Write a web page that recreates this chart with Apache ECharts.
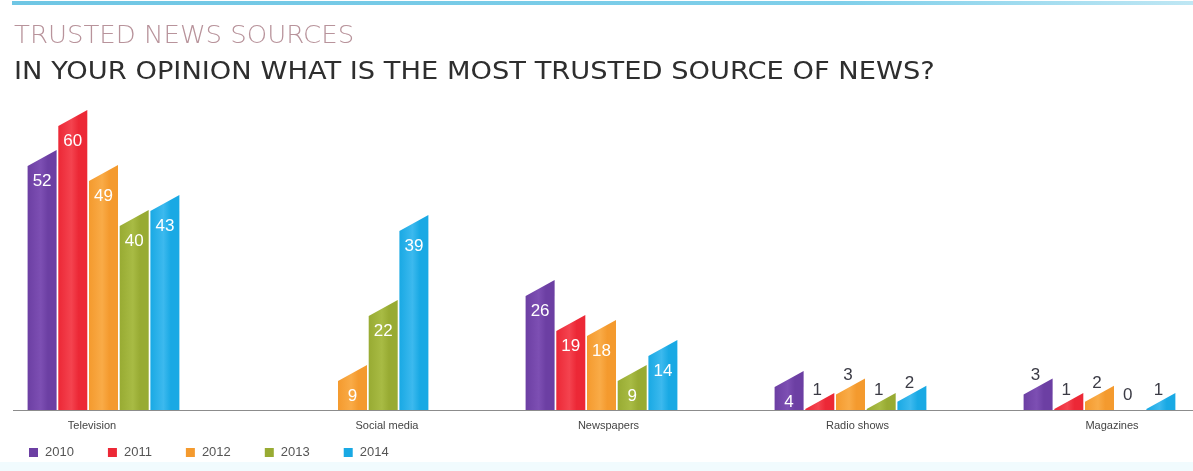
<!DOCTYPE html>
<html>
<head>
<meta charset="utf-8">
<script src="https://cdn.jsdelivr.net/npm/echarts@6/dist/echarts.min.js"></script>
<style>
  html, body { margin: 0; padding: 0; background: #ffffff; }
  #chart { width: 1193px; height: 471px; }
</style>
</head>
<body>
<div id="chart"></div>
<script>
// Survey: most trusted source of news, by year
const categories = ['Television', 'Social media', 'Newspapers', 'Radio shows', 'Magazines'];
const years = ['2010', '2011', '2012', '2013', '2014'];
const values2010 = [52, null, 26, 4, 3];
const values2011 = [60, null, 19, 1, 1];
const values2012 = [49, 9, 18, 3, 2];
const values2013 = [40, 22, 9, 1, 0];
const values2014 = [43, 39, 14, 2, 1];
const seriesValues = [values2010, values2011, values2012, values2013, values2014];
const colors = ['#6c3fa3', '#ec2836', '#f49a2e', '#98ab33', '#19a9e4'];
const stripes = ['#7d4fb3', '#f4434f', '#f9ab47', '#a8bb44', '#3cb9ee'];

const chart = echarts.init(document.getElementById('chart'), null, { renderer: 'canvas' });

const SLANT = 16;      // rise of the sloped top, px
const PITCH = 30.7;    // distance between neighbouring bars in a group
const BAR_W = 29;
const GROUP_W = 5 * PITCH - (PITCH - BAR_W);
const LABEL_FONT = '"Liberation Sans", Arial, sans-serif';

function makeRender(si) {
  return function (params, api) {
    const cat = api.value(0);
    const v = api.value(1);
    if (v == null || isNaN(v) || v <= 0) {
      if (v === 0) {
        const base0 = api.coord([cat, 0]);
        const x0 = base0[0] - GROUP_W / 2 + si * PITCH;
        return {
          type: 'text',
          style: {
            text: '0', x: x0 + 12, y: base0[1] - 15,
            fill: '#3b3b45', font: '17px ' + LABEL_FONT,
            align: 'center', verticalAlign: 'middle'
          }
        };
      }
      return null;
    }
    const base = api.coord([cat, 0]);
    const top = api.coord([cat, v]);
    let h = base[1] - top[1];
    // very small values get a stretched stub so they stay legible
    if (v < 5) h = Math.max(h, 17 + (v - 1) * 7.3);
    const x0 = base[0] - GROUP_W / 2 + si * PITCH;
    const x1 = x0 + BAR_W;
    const yR = base[1] - h;
    const yL = Math.min(base[1], yR + SLANT);
    const grad = new echarts.graphic.LinearGradient(0, 0, 1, 0, [
      { offset: 0, color: colors[si] },
      { offset: 0.45, color: stripes[si] },
      { offset: 0.7, color: colors[si] },
      { offset: 1, color: colors[si] }
    ]);
    const children = [{
      type: 'polygon',
      shape: { points: [[x0, base[1]], [x0, yL], [x1, yR], [x1, base[1]]] },
      style: { fill: grad }
    }];
    if (v >= 4) {
      children.push({
        type: 'text',
        style: {
          text: String(v), x: (x0 + x1) / 2, y: yL + 15,
          fill: '#ffffff', font: '17px ' + LABEL_FONT,
          align: 'center', verticalAlign: 'middle'
        }
      });
    } else {
      const slopeY = yL - (yL - yR) * (12 / BAR_W);
      children.push({
        type: 'text',
        style: {
          text: String(v), x: x0 + 12, y: slopeY - 12,
          fill: '#3b3b45', font: '17px ' + LABEL_FONT,
          align: 'center', verticalAlign: 'middle'
        }
      });
    }
    return { type: 'group', children: children };
  };
}

const series = seriesValues.map(function (vals, si) {
  return {
    name: years[si],
    type: 'custom',
    renderItem: makeRender(si),
    encode: { x: 0, y: 1 },
    data: vals.map(function (v, ci) { return [ci, v == null ? null : v]; }),
    z: 2
  };
});

const labelShift = { 'Television': 'l', 'Social media': 'r', 'Newspapers': 'n', 'Radio shows': 'n', 'Magazines': 'm' };

chart.setOption({
  backgroundColor: '#ffffff',
  animation: false,
  color: colors,
  graphic: [
    {
      type: 'rect', left: 12, top: 1, silent: true,
      shape: { width: 1181, height: 4 },
      style: {
        fill: new echarts.graphic.LinearGradient(0, 0, 1, 0, [
          { offset: 0, color: '#6fc6e4' },
          { offset: 0.7, color: '#7fcfea' },
          { offset: 1, color: '#bfe7f4' }
        ])
      }
    },
    {
      type: 'rect', left: 0, top: 462, silent: true,
      shape: { width: 1193, height: 9 },
      style: { fill: '#f1fbfe' }
    },
    {
      type: 'line', silent: true, z: 3,
      shape: { x1: 13, y1: 410.5, x2: 1193, y2: 410.5 },
      style: { stroke: '#8c8c8c', lineWidth: 1 }
    },
    {
      type: 'text', x: 14, y: 25, scaleX: 1.083, originX: 0, originY: 0,
      style: {
        text: 'TRUSTED NEWS SOURCES', fill: '#b8939b',
        font: '200 24px "DejaVu Sans", sans-serif', verticalAlign: 'top'
      }
    },
    {
      type: 'text', x: 14, y: 61, scaleX: 1.137, originX: 0, originY: 0,
      style: {
        text: 'IN YOUR OPINION WHAT IS THE MOST TRUSTED SOURCE OF NEWS?', fill: '#2e2e2e',
        font: '400 24px "DejaVu Sans", sans-serif', verticalAlign: 'top'
      }
    }
  ],
  legend: {
    left: 24, top: 441,
    itemWidth: 9, itemHeight: 9, itemGap: 34,
    icon: 'rect',
    data: years,
    textStyle: { color: '#555', fontSize: 13, fontFamily: LABEL_FONT, padding: [0, 0, 0, 2] }
  },
  grid: { left: -21, right: -31, top: 10, bottom: 61, outerBoundsMode: 'none', containLabel: false },
  xAxis: {
    type: 'category',
    data: categories,
    axisLine: { show: false },
    axisTick: { show: false },
    axisLabel: {
      margin: 10,
      color: '#444',
      fontSize: 11,
      fontFamily: LABEL_FONT,
      formatter: function (val) {
        return '{' + labelShift[val] + '|' + val + '}';
      },
      rich: {
        l: { padding: [0, 23, 0, 0], color: '#444', fontSize: 11 },
        r: { padding: [0, 0, 0, 69], color: '#444', fontSize: 11 },
        n: { padding: [0, 0, 0, 14], color: '#444', fontSize: 11 },
        m: { padding: [0, 0, 0, 25], color: '#444', fontSize: 11 }
      }
    }
  },
  yAxis: { type: 'value', min: 0, max: 80, show: false, splitLine: { show: false } },
  series: series
});
</script>
</body>
</html>
